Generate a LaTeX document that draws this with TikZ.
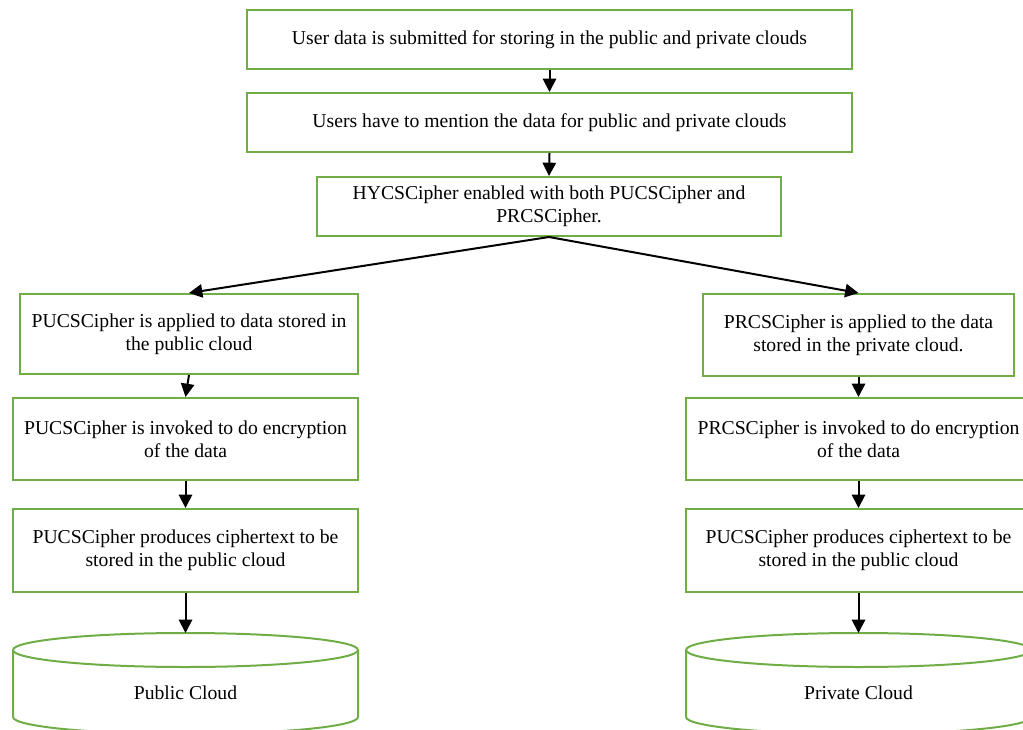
\documentclass[tikz,border=0pt]{standalone}
\usepackage{fontspec}
\setmainfont{Liberation Serif}
\usepackage{xcolor}
\usetikzlibrary{arrows.meta}
\definecolor{boxgreen}{HTML}{70AD47}

\begin{document}
\begin{tikzpicture}[x=0.75pt, y=0.75pt,
	stepbox/.style={draw=boxgreen, line width=1.5pt, align=center, inner sep=0pt,
		font=\fontsize{14.75}{17.25}\selectfont},
	cloudline/.style={draw=boxgreen, line width=1.5pt},
	flow/.style={-{Triangle[length=10pt, width=10pt]}, line width=1.5pt}]
			\useasboundingbox (0,0) rectangle (1023,729);
			\clip (0,0) rectangle (1023,729);

			% Common steps
			\node[stepbox, minimum width=453.75pt, minimum height=44.25pt] (submit) at (549.5,689.5) {User data is submitted for storing in the public and private clouds};
			\node[stepbox, minimum width=453.75pt, minimum height=44.25pt] (mention) at (549.5,606.5) {Users have to mention the data for public and private clouds};
			\node[stepbox, minimum width=348pt, minimum height=44.25pt] (hycs) at (549,522.5) {HYCSCipher enabled with both PUCSCipher and\\PRCSCipher.};

			% Public side (left)
			\node[stepbox, minimum width=253.5pt, minimum height=60pt] (puapply) at (189,395) {PUCSCipher is applied to data stored in\\the public cloud};
			\node[stepbox, minimum width=258.75pt, minimum height=61.5pt] (puinvoke) at (185.5,290) {PUCSCipher is invoked to do encryption\\of the data};
			\node[stepbox, minimum width=258.75pt, minimum height=62.25pt] (puproduce) at (185.5,178.5) {PUCSCipher produces ciphertext to be\\stored in the public cloud};

			% Private side (right)
			\node[stepbox, minimum width=233.25pt, minimum height=61.5pt] (prapply) at (858.5,394) {PRCSCipher is applied to the data\\stored in the private cloud.};
			\node[stepbox, minimum width=258.75pt, minimum height=61.5pt] (prinvoke) at (858.5,290) {PRCSCipher is invoked to do encryption\\of the data};
			\node[stepbox, minimum width=258.75pt, minimum height=62.25pt] (prproduce) at (858.5,178.5) {PUCSCipher produces ciphertext to be\\stored in the public cloud};

			% Clouds (cylinders)
			\foreach \cx/\nm/\txt in {185.5/pub/Public Cloud, 858.5/pri/Private Cloud} {
				\draw[cloudline] (\cx-172.5,79) -- (\cx-172.5,12) arc[start angle=180, end angle=360, x radius=172.5, y radius=17] -- (\cx+172.5,79);
				\draw[cloudline] (\cx,79) ellipse [x radius=172.5, y radius=17];
				\coordinate (\nm top) at (\cx,96);
				\node[font=\fontsize{14.75}{17.25}\selectfont] (\nm cloud) at (\cx,36) {\txt};
			}

			% Draw flow arrows
			\foreach \a/\b in {submit/mention, mention/hycs, puapply/puinvoke, puinvoke/puproduce, prapply/prinvoke, prinvoke/prproduce}
			\draw[flow] (\a.south) -- (\b.north);
			\draw[flow] (hycs.south) -- (puapply.north);
			\draw[flow] (hycs.south) -- (prapply.north);
			\draw[flow] (puproduce.south) -- (pubtop);
			\draw[flow] (prproduce.south) -- (pritop);
		\end{tikzpicture}
\end{document}
